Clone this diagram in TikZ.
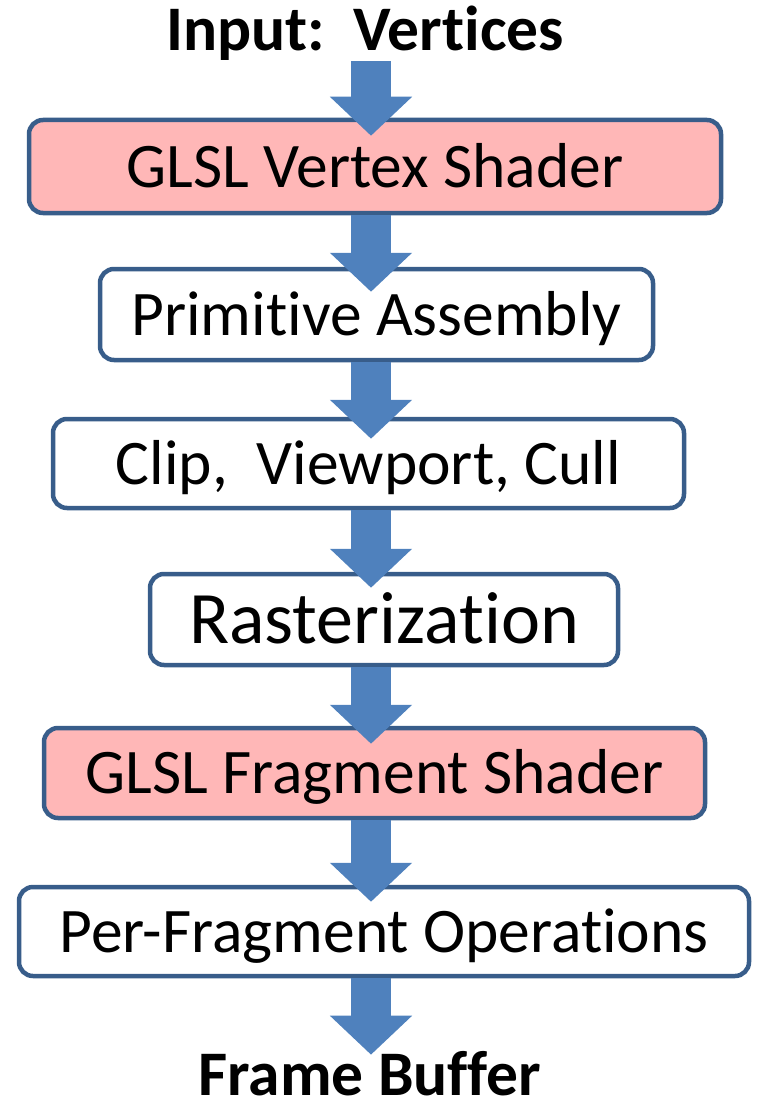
\documentclass[tikz,border=0pt]{standalone}
\usepackage{fontspec}
\setmainfont[Ligatures=NoCommon]{Carlito}
\usepackage{tikz}
\usetikzlibrary{arrows.meta}
\definecolor{boxline}{HTML}{385D8A}
\definecolor{boxpink}{HTML}{FFB7B7}
\definecolor{flowblue}{HTML}{4F81BD}

\begin{document}
\begin{tikzpicture}[x=1pt, y=-1pt,
  stage/.style={draw=boxline, line width=4.5pt, rounded corners=14pt, fill=white,
    inner sep=0pt, font=\fontsize{63.5}{70}\selectfont, text height=41pt, text depth=0pt},
  shader/.style={stage, fill=boxpink},
  ends/.style={font=\fontsize{63.5}{70}\selectfont\bfseries, inner sep=0pt},
  flow/.style={flowblue, line width=40pt, -{Triangle[length=39pt,width=80pt]}}]
  \useasboundingbox (0,0) rectangle (756,1102);
  \coordinate (ax) at (371,0);
  \node[ends, anchor=base] (in) at (365,51) {Input:\ \ Vertices};
  \node[shader, minimum width=692pt, minimum height=93pt] (vs) at (375,166.5) {GLSL Vertex Shader};
  \node[stage, minimum width=553pt, minimum height=91pt] (pa) at (376.5,314.5) {Primitive Assembly};
  \node[stage, minimum width=631pt, minimum height=89pt] (cvc) at (368.5,463.5) {Clip,\ \ Viewport, Cull};
  \node[stage, minimum width=468pt, minimum height=91pt, font=\fontsize{74}{80}\selectfont,
    text height=47pt] (ras) at (384,619.5) {Rasterization};
  \node[shader, minimum width=661pt, minimum height=90pt] (fs) at (374.5,773) {GLSL Fragment Shader};
  \node[stage, minimum width=730pt, minimum height=89pt] (pfo) at (384,931.5) {Per-Fragment Operations};
  \node[ends, anchor=base] (fb) at (370,1095) {Frame Buffer};
  \path[flow]
  (in.south -| ax) edge[shorten >=-18pt] (vs.north -| ax)
  (vs.south -| ax) edge[shorten >=-25pt] (pa.north -| ax)
  (pa.south -| ax) edge[shorten >=-22pt] (cvc.north -| ax)
  (cvc.south -| ax) edge[shorten >=-16pt] (ras.north -| ax)
  (ras.south -| ax) edge[shorten >=-18pt] (fs.north -| ax)
  (fs.south -| ax) edge[shorten >=-17pt] (pfo.north -| ax)
  (pfo.south -| ax) edge[shorten >=-4pt] (fb.north -| ax)
  ;
\end{tikzpicture}
\end{document}
